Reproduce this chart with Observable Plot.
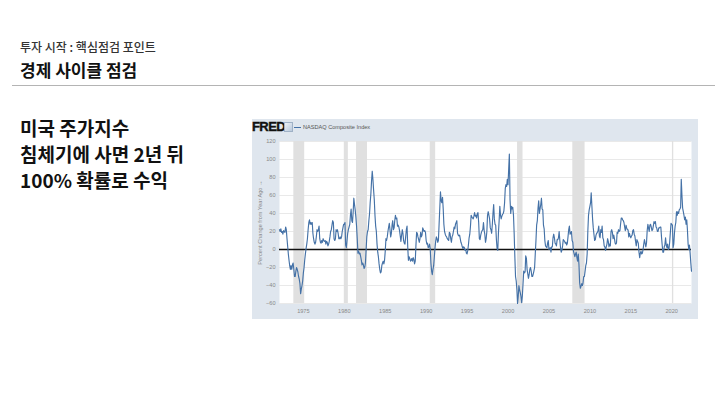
<!DOCTYPE html>
<html>
<head>
<meta charset="utf-8">
<script src="https://cdn.jsdelivr.net/npm/d3@7"></script>
<script src="https://cdn.jsdelivr.net/npm/@observablehq/plot@0.6"></script>
<style>
  html, body { margin: 0; padding: 0; background: #fff; }
  body { width: 720px; height: 405px; position: relative; overflow: hidden; font-family: "Noto Sans CJK KR", "Noto Sans", sans-serif; }
  .abs { position: absolute; white-space: nowrap; }
  #kicker { left: 20px; top: 41px; font-size: 12px; line-height: 12px; font-weight: 500; color: #333; }
  #title { left: 20px; top: 61px; font-size: 17px; line-height: 17px; font-weight: 700; color: #111; }
  #rule { left: 12px; top: 85px; width: 703px; height: 0; border-top: 1.5px solid #b4b4b4; }
  #body { left: 20px; top: 115px; font-size: 19px; line-height: 26px; font-weight: 700; color: #111; }
  #panel { left: 252px; top: 119px; width: 446px; height: 200px; background: #dfe6ee; }
  #fred { position: absolute; left: 0px; top: 0px; font-family: "Liberation Sans", Arial, sans-serif; font-weight: 700; font-size: 13px; line-height: 15px; letter-spacing: -0.6px; color: #111; -webkit-text-stroke: 0.4px #111; }
  #icon { position: absolute; left: 32px; top: 3px; width: 7px; height: 8px; background: linear-gradient(135deg, #eef2f7, #b9c9dc); border: 0.5px solid #9fb1c6; }
  #legline { position: absolute; left: 42px; top: 8px; width: 7px; height: 1.2px; background: #4572a7; }
  #legtext { position: absolute; left: 51px; top: 5px; font-family: "Liberation Sans", Arial, sans-serif; font-size: 5.6px; line-height: 7px; color: #555; }
  #chart { position: absolute; left: 0px; top: 18px; }
</style>
</head>
<body>
<div id="kicker" class="abs">투자 시작 : 핵심점검 포인트</div>
<div id="title" class="abs">경제 사이클 점검</div>
<div id="rule" class="abs"></div>
<div id="body" class="abs">미국 주가지수<br>침체기에 사면 2년 뒤<br>100% 확률로 수익</div>
<div id="panel" class="abs">
  <div id="fred">FRED</div>
  <div id="icon"></div>
  <div id="legline"></div>
  <div id="legtext">NASDAQ Composite Index</div>
  <div id="chart"></div>
</div>
<script>
// NASDAQ Composite Index, percent change from year ago, monthly
const seriesName = "NASDAQ Composite Index";
const firstMonth = "1972-02";
const yoy1972to1979 = [
  22, 20, 23, 19, 20, 17, 21, 20, 19, 25, 22,
  12, 3, -5, -12, -18, -22, -18, -22, -17, -15, -22, -30,
  -30, -24, -20, -22, -25, -30, -33, -38, -49, -44, -40, -35,
  -26, -20, -12, -5, 1, 6, 12, 22, 30, 33, 28, 30,
  28, 30, 18, 12, 8, 6, 8, 14, 22, 20, 22, 26,
  12, 8, 7, 10, 8, 12, 10, 9, 10, 6, 9, 8,
  4, 6, 9, 14, 20, 22, 27, 32, 30, 12, 10, 12,
  22, 20, 22, 18, 12, 12, 14, 12, 14, 20, 24, 28
];
const yoy1980s = [
  28, 30, 5, 2, 10, 18, 22, 25, 28, 38, 45, 32,
  30, 42, 57, 50, 44, 36, 26, 12, -4, -2, -5, -4,
  -8, -12, -17, -15, -17, -21, -20, -15, 0, 14, 20, 22,
  32, 40, 52, 62, 76, 87, 78, 66, 55, 38, 26, 20,
  6, -3, -8, -16, -22, -26, -25, -18, -15, -13, -16, -12,
  -2, 12, 10, 14, 20, 25, 29, 22, 14, 18, 27, 32,
  22, 24, 32, 38, 34, 35, 26, 27, 25, 21, 15, 9,
  16, 22, 18, 10, 7, 6, 14, 22, 26, 3, -12, -8,
  -10, -13, -12, -10, -13, -9, -11, -16, -13, 4, 19, 18,
  14, 11, 8, 12, 19, 14, 16, 24, 22, 20, 21, 19
];
const yoy1990s = [
  10, 6, 7, 2, 3, 6, 1, -15, -24, -28, -22, -18,
  -8, 2, 9, 14, 12, 8, 10, 28, 46, 64, 54, 52,
  58, 45, 28, 20, 17, 15, 14, 12, 11, 10, 19, 18,
  12, 8, 14, 16, 20, 25, 23, 28, 30, 32, 18, 16,
  15, 16, 12, 8, 6, 3, 1, 3, 2, -1, 0, -4,
  -5, -1, 5, 13, 17, 26, 38, 36, 35, 34, 37, 41,
  37, 38, 35, 40, 41, 30, 12, 11, 16, 19, 21, 22,
  30, 21, 17, 8, 12, 20, 38, 42, 38, 34, 24, 22,
  18, 28, 40, 50, 34, 28, 27, 11, 1, -1, 19, 32,
  48, 38, 34, 37, 39, 40, 43, 52, 68, 72, 70, 78
];
const yoy2000s = [
  72, 90, 106, 55, 40, 48, 45, 47, 38, 18, -8, -30,
  -35, -45, -60, -52, -40, -45, -48, -52, -59, -52, -38, -24,
  -26, -25, -7, -10, -22, -27, -32, -28, -22, -20, -24, -30,
  -30, -27, -24, -20, -5, 10, 27, 32, 46, 54, 40, 45,
  50, 57, 45, 44, 27, 23, 10, 4, 3, 2, 7, 10,
  0, 1, 2, -3, 3, 3, 13, 17, 13, 7, 6, 4,
  11, 11, 13, 20, 10, 2, -3, -1, 4, 11, 10, 9,
  7, 8, 5, 7, 14, 22, 26, 17, 18, 20, 10, 8,
  -2, -5, -8, -5, -3, -9, -13, -5, -17, -37, -43, -41,
  -38, -40, -37, -30, -30, -24, -18, -15, -5, 20, 38, 44
];
const yoy2010s = [
  48, 52, 63, 48, 34, 24, 17, 10, 11, 16, 18, 19,
  21, 26, 15, 13, 22, 19, 26, 13, 11, 4, 3, -1,
  3, 6, 12, 9, 3, 6, 4, 20, 22, 19, 12, 16,
  12, 7, 6, 7, 19, 18, 22, 20, 21, 28, 35, 35,
  33, 32, 30, 25, 21, 27, 24, 22, 22, 14, 18, 15,
  13, 15, 16, 21, 22, 17, 15, 9, 4, 11, 9, 7,
  -3, -9, -4, -2, -5, -4, 0, 6, 11, 7, 3, 7,
  21, 28, 24, 20, 27, 28, 25, 21, 22, 26, 31, 29,
  31, 25, 24, 20, 20, 24, 24, 25, 25, 14, 5, -3,
  -3, 3, 5, 13, 5, 2, 6, 0, 1, 8, 19, 29
];
const yoy2020s = [
  28, 27, 2, 6, 18, 26, 30, 42, 38, 42, 40, 44,
  45, 47, 78, 60, 46, 42, 38, 33, 36, 28, 33, 22,
  6, 0, 5, -4, -15, -24
];
// NBER recessions (shaded)
const recessionStarts = ["1973-11", "1980-01", "1981-07", "1990-07", "2001-03", "2007-12", "2020-02"];
const recessionEnds   = ["1975-03", "1980-07", "1982-11", "1991-03", "2001-11", "2009-06", "2020-04"];
// axis ticks
const xTickYears = [1975, 1980, 1985, 1990, 1995, 2000, 2005, 2010, 2015, 2020];
const yTicks = [-60, -40, -20, 0, 20, 40, 60, 80, 100, 120];
const yLabel = "Percent Change from Year Ago";

// build table
const allValues = [].concat(yoy1972to1979, yoy1980s, yoy1990s, yoy2000s, yoy2010s, yoy2020s);
const start = d3.utcParse("%Y-%m")(firstMonth);
const months = d3.utcMonth.range(start, d3.utcMonth.offset(start, allValues.length));
const data = allValues.map((v, i) => ({date: months[i], value: v}));
const parseM = d3.utcParse("%Y-%m");
const recessions = recessionStarts.map((s, i) => ({start: parseM(s), end: parseM(recessionEnds[i])}));
const xTicks = xTickYears.map(y => new Date(Date.UTC(y, 0, 1)));

const chart = Plot.plot({
  width: 446,
  height: 182,
  marginLeft: 27,
  marginRight: 7,
  marginTop: 4,
  marginBottom: 16,
  style: {background: "transparent", fontFamily: "Liberation Sans, Arial, sans-serif", fontSize: "5.6px", color: "#888"},
  x: {type: "utc", domain: [data[0].date, data[data.length - 1].date]},
  y: {domain: [-60, 120]},
  marks: [
    Plot.frame({fill: "white", stroke: "none"}),
    Plot.gridY(yTicks, {stroke: "#e9e9e9", strokeOpacity: 1, strokeWidth: 1}),
    Plot.rect(recessions, {x1: "start", x2: "end", fill: "#e0e0e0"}),
    Plot.ruleY([0], {stroke: "#111", strokeWidth: 1.4}),
    Plot.lineY(data, {x: "date", y: "value", stroke: "#4572a7", strokeWidth: 1.15}),
    Plot.axisY(yTicks, {tickSize: 0, tickPadding: 4, label: yLabel, labelAnchor: "center", labelOffset: 21, fill: "#888"}),
    Plot.axisX(xTicks, {tickSize: 0, tickPadding: 6, tickFormat: d3.utcFormat("%Y"), label: null, fill: "#888"})
  ]
});
document.getElementById("chart").appendChild(chart);
</script>
</body>
</html>
